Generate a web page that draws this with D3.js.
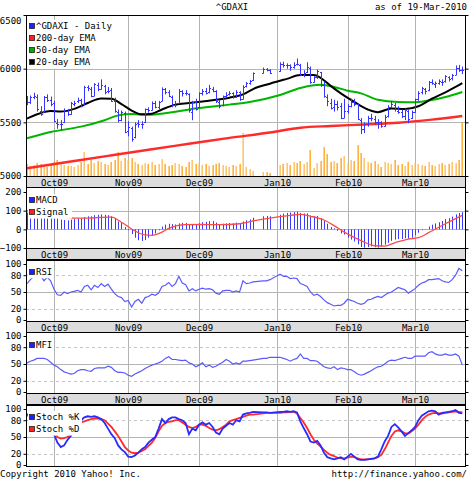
<!DOCTYPE html>
<html>
<head>
<meta charset="utf-8">
<script src="https://cdn.jsdelivr.net/npm/d3@7"></script>
<style>
body { margin: 0; background: #fff; }
text { font-family: "DejaVu Sans Mono", monospace; font-size: 9px; fill: #000; }
</style>
</head>
<body>
<svg id="chart" width="470" height="480"></svg>
<script>
// one slot per weekday, Sep 21 2009 .. Mar 19 2010 (null = exchange holiday)
const monthLabels = ['Oct09', 'Nov09', 'Dec09', 'Jan10', 'Feb10', 'Mar10']
const monthIdx = [8, 30, 51, 74, 95, 115]

const opens = [5700,5690,5740,5735,5610,5600,5735,5710,5680,5490,
 5480,5500,5610,5580,5670,5700,5705,5670,5825,5810,
 5750,5850,5815,5840,5790,5800,5700,5600,5520,5590,
 5420,5450,5360,5490,5480,5500,5620,5615,5680,5640,
 5700,5810,5780,5740,5660,5680,5790,5775,5760,5600,
 5690,5640,5770,5790,5780,5810,5790,5690,5660,5745,
 5760,5770,5740,5780,5720,5835,5865,5890,null,null,
 5960,5995,5985,null,null,5975,6045,6030,6030,6020,
 6045,6035,5940,5970,6010,5880,5920,5965,5850,5740,
 5680,5640,5670,5650,5545,5610,5650,5690,5670,5520,
 5440,5480,5540,5530,5500,5500,5470,5555,5640,5665,
 5610,5600,5560,5610,5540,5600,5715,5780,5810,5800,
 5880,5860,5870,5880,5885,5920,5910,5945,6010,5990]
const highs = [5745,5750,5775,5760,5650,5745,5760,5740,5700,5530,
 5520,5630,5625,5690,5700,5730,5720,5840,5845,5830,
 5865,5870,5900,5850,5830,5820,5730,5620,5610,5600,
 5510,5460,5500,5520,5510,5630,5640,5695,5700,5700,
 5825,5820,5800,5750,5700,5810,5800,5800,5770,5700,
 5720,5780,5810,5820,5850,5830,5800,5710,5750,5780,
 5790,5780,5800,5790,5845,5875,5895,5965,null,null,
 6010,6005,5995,null,null,6060,6065,6050,6040,6060,
 6095,6045,5985,6060,6020,5930,5990,5970,5880,5760,
 5720,5710,5700,5680,5720,5670,5720,5720,5680,5540,
 5500,5560,5580,5560,5530,5510,5570,5660,5700,5680,
 5650,5620,5630,5620,5610,5720,5790,5830,5820,5885,
 5900,5880,5900,5900,5940,5930,5950,6030,6035,6020]
const lows = [5660,5670,5715,5600,5560,5595,5690,5650,5500,5440,
 5420,5495,5560,5570,5650,5680,5640,5665,5790,5735,
 5745,5790,5805,5760,5770,5690,5590,5500,5510,5400,
 5370,5320,5350,5450,5440,5495,5590,5610,5630,5620,
 5695,5760,5735,5640,5640,5675,5740,5750,5590,5520,
 5610,5635,5750,5760,5770,5780,5680,5630,5650,5730,
 5750,5720,5730,5700,5715,5825,5850,5885,null,null,
 5955,5975,5950,null,null,5970,6010,6000,5980,6000,
 6030,5930,5920,5960,5860,5870,5905,5830,5730,5650,
 5620,5600,5610,5530,5540,5580,5640,5650,5520,5390,
 5400,5460,5510,5480,5440,5450,5460,5545,5630,5600,
 5580,5540,5520,5490,5530,5590,5700,5760,5760,5790,
 5850,5820,5850,5840,5870,5880,5890,5940,5970,5950]
const closes = [5688,5736,5742,5622,5581,5737,5707,5675,5509,5488,
 5488,5617,5575,5681,5683,5711,5652,5829,5820,5743,
 5855,5811,5851,5781,5794,5701,5604,5518,5592,5414,
 5452,5347,5489,5486,5488,5620,5613,5684,5642,5688,
 5812,5784,5748,5660,5663,5792,5774,5770,5614,5686,
 5625,5769,5788,5776,5817,5789,5696,5652,5741,5756,
 5771,5732,5787,5719,5831,5863,5884,5957,null,null,
 5997,5986,5957,null,null,6048,6031,6034,6019,6037,
 6041,5943,5964,6019,5875,5918,5976,5851,5746,5696,
 5631,5668,5643,5540,5608,5654,5690,5672,5533,5434,
 5484,5536,5538,5503,5501,5466,5551,5640,5670,5620,
 5600,5558,5615,5532,5598,5713,5776,5817,5795,5877,
 5869,5864,5881,5876,5929,5902,5937,6010,5988,5983]

// volume, millions of shares
const volumes = [67,56,61,72,67,56,50,61,78,89,
 67,61,56,56,50,61,78,133,67,90,
 72,83,78,67,61,78,89,133,83,100,
 89,100,78,67,61,72,67,78,61,67,
 94,67,56,61,72,67,56,50,78,89,
 67,72,61,67,56,61,67,72,61,56,
 50,61,56,67,240,50,39,28,null,null,
 22,22,17,null,null,61,67,72,61,78,
 72,83,67,78,145,44,72,83,160,122,
 78,83,72,100,111,72,89,83,172,128,
 100,78,72,83,67,50,78,72,67,89,
 61,67,56,78,61,72,67,61,56,78,
 61,56,67,72,61,67,78,72,89,298]

// moving averages, read at sample days
const ema20Idx = [0,3,7,10,14,18,22,25,28,31,34,37,40,44,48,52,56,60,64,67,72,77,81,85,87,90,93,97,101,104,108,112,116,120,124,127,129]
const ema20 = [5535,5575,5605,5600,5625,5680,5722,5720,5670,5610,5575,5580,5620,5665,5680,5695,5710,5730,5760,5810,5860,5905,5940,5940,5915,5840,5770,5690,5620,5595,5630,5625,5650,5720,5780,5830,5866]
const ema50Idx = [0,7,16,23,27,31,36,42,51,60,66,75,81,87,91,95,99,104,110,115,120,124,129]
const ema50 = [5352,5410,5460,5520,5565,5578,5570,5590,5633,5665,5690,5755,5820,5850,5830,5795,5770,5710,5690,5688,5708,5736,5783]
const ema200Idx = [0,12,24,36,48,60,72,81,90,100,110,120,129]
const ema200 = [5072,5130,5188,5245,5300,5355,5405,5450,5466,5480,5496,5525,5559]

const macd = [90,92,90,85,80,78,80,78,70,60,
 52,50,48,52,55,58,58,66,70,70,
 76,78,80,78,76,70,58,42,35,12,
 -5,-25,-45,-58,-62,-58,-45,-32,-22,-5,
 15,25,30,28,26,32,35,34,25,28,
 26,33,38,40,44,44,36,28,30,32,
 34,32,36,34,42,48,53,62,null,null,
 70,72,70,null,null,78,84,88,90,92,
 94,88,85,86,74,70,72,60,45,30,
 12,5,-8,-22,-28,-45,-55,-65,-80,-95,
 -98,-95,-92,-96,-98,-92,-82,-72,-62,-55,
 -52,-52,-48,-50,-45,-32,-18,-5,2,15,
 25,32,38,45,55,60,68,80,88,92]
const signalIdx = [0,4,8,11,14,18,22,25,28,31,35,37,40,42,47,52,57,63,67,72,78,81,84,88,91,94,99,103,106,109,113,116,119,124,129]
const signal = [100,92,78,66,60,60,64,65,38,2,-30,-32,-15,5,25,26,25,30,45,60,75,80,70,50,20,-15,-60,-88,-90,-72,-52,-45,-18,30,75]

const rsi = [65,72,78,76,80,70,76,70,55,45,
 44,50,47,50,51,53,50,60,62,54,
 62,58,65,60,64,55,47,42,40,33,
 35,23,33,37,30,40,42,46,44,48,
 60,62,67,60,65,78,66,63,52,56,
 52,55,57,55,56,54,48,46,52,53,
 53,50,52,50,70,65,66,68,null,null,
 70,70,72,null,null,82,78,78,74,75,
 74,65,63,60,50,44,46,42,36,31,
 28,25,26,26,30,37,35,33,30,28,
 30,36,37,40,42,40,44,48,50,54,
 58,56,54,48,52,56,62,66,68,72,
 72,73,74,70,68,67,72,80,92,88]
const mfi = [52,55,57,60,60,60,58,53,48,45,
 40,36,34,32,33,38,40,40,38,37,
 42,43,43,43,46,44,38,35,35,34,
 30,28,32,35,38,42,45,48,50,52,
 55,60,63,58,58,57,56,57,52,50,
 45,48,52,45,48,44,46,50,53,58,
 55,50,52,50,55,55,56,57,null,null,
 60,60,62,null,null,62,60,58,55,58,
 60,68,60,60,56,56,55,50,45,43,
 42,45,40,43,42,40,40,36,32,30,
 32,35,38,42,45,46,50,55,57,56,
 58,60,62,60,60,64,64,64,64,70,
 72,68,66,66,68,66,66,68,64,48]
const stochK = [90,92,93,85,82,88,86,72,55,40,
 32,35,45,52,60,75,80,85,87,86,
 87,85,82,75,65,55,48,35,28,23,
 15,14,17,22,28,32,40,45,50,65,
 82,75,82,85,85,82,80,75,55,65,
 62,72,76,72,75,68,58,55,65,70,
 75,72,80,78,90,92,93,95,null,null,
 94,94,93,null,null,95,95,96,95,96,
 94,78,66,55,42,40,43,35,22,14,
 12,10,12,14,10,15,20,15,10,9,
 9,10,11,12,15,28,42,52,68,73,
 67,60,52,57,62,68,80,88,92,96,
 97,96,90,93,94,95,96,98,93,92]
const stochD = [88,89,91,90,87,85,84,80,62,50,
 47,48,50,55,62,70,76,78,80,82,
 83,83,82,80,74,68,60,52,42,32,
 26,22,21,22,25,28,34,40,48,60,
 70,75,77,78,80,80,76,72,68,66,
 68,72,72,70,66,63,62,64,68,72,
 78,80,82,84,86,88,90,90,null,null,
 92,93,93,null,null,93,94,94,95,95,
 92,84,76,66,55,45,38,33,27,22,
 18,16,13,12,12,13,15,14,12,10,
 10,10,11,12,14,18,28,40,52,60,
 62,60,57,56,60,65,72,80,86,90,
 92,93,92,92,93,94,95,96,95,94]

const left = 26, right = 465
const svg = d3.select('#chart')

const x = d3.scaleLinear()
    .domain([-0.3, 129.8])
    .range([left, right])
const px = i => Math.round(x(i)) + 0.5

// panel layout
const panels = [
    { top: 15, bottom: 176, domain: [5000, 6500], range: [176, 15], ticks: [5000, 5500, 6000, 6500], grid: [5500, 6000], dashed: [], strip: true },
    { top: 187, bottom: 248, domain: [-100, 200], range: [248, 192], ticks: [-100, 0, 100, 200], grid: [0, 100], dashed: [], strip: true },
    { top: 260, bottom: 321, domain: [0, 100], range: [320, 264], ticks: [0, 20, 50, 80, 100], grid: [50], dashed: [20, 80], strip: true },
    { top: 332, bottom: 393, domain: [0, 100], range: [392, 336], ticks: [0, 20, 50, 80, 100], grid: [50], dashed: [20, 80], strip: true },
    { top: 405, bottom: 466, domain: [0, 100], range: [465, 409], ticks: [0, 20, 50, 80, 100], grid: [50], dashed: [20, 80], strip: false }
]
panels.forEach(p => p.y = d3.scaleLinear().domain(p.domain).range(p.range))

// grids
panels.forEach(p => {
    const g = svg.append('g')
    g.selectAll('.vgrid')
        .data(monthIdx)
        .enter().append('line')
        .attr('x1', d => px(d)).attr('x2', d => px(d))
        .attr('y1', p.top).attr('y2', p.bottom)
        .attr('stroke', '#b4b4b4')
    g.selectAll('.hgrid')
        .data(p.grid)
        .enter().append('line')
        .attr('x1', left).attr('x2', right)
        .attr('y1', d => Math.round(p.y(d)) + 0.5).attr('y2', d => Math.round(p.y(d)) + 0.5)
        .attr('stroke', '#b4b4b4')
    g.selectAll('.dgrid')
        .data(p.dashed)
        .enter().append('line')
        .attr('x1', left).attr('x2', right)
        .attr('y1', d => Math.round(p.y(d)) + 0.5).attr('y2', d => Math.round(p.y(d)) + 0.5)
        .attr('stroke', '#c4c4c4')
        .attr('stroke-dasharray', '3,3')
})

const days = d3.range(closes.length).filter(i => closes[i] != null)
const pts = (arr, idx) => (idx || days).map((i, k) => [i, idx ? arr[k] : arr[i]])

const lineFor = (y, curve) => d3.line()
    .x(d => x(d[0]))
    .y(d => y(d[1]))
    .curve(curve || d3.curveLinear)

// main panel: volume, EMAs, OHLC bars
const pMain = panels[0]
const vol = d3.scaleLinear().domain([0, 300]).range([176, 122])

svg.append('g').selectAll('rect')
    .data(days)
    .enter().append('rect')
    .attr('x', i => Math.round(x(i)) - 0.5)
    .attr('y', i => vol(volumes[i]))
    .attr('width', 1.3)
    .attr('height', i => vol(0) - vol(volumes[i]))
    .attr('fill', i => closes[i] >= opens[i] ? '#ffb84d' : '#ffa010')

svg.append('path')
    .datum(pts(ema200, ema200Idx))
    .attr('d', lineFor(pMain.y, d3.curveMonotoneX))
    .attr('fill', 'none').attr('stroke', '#ff2a2a').attr('stroke-width', 2.4)
svg.append('path')
    .datum(pts(ema50, ema50Idx))
    .attr('d', lineFor(pMain.y, d3.curveMonotoneX))
    .attr('fill', 'none').attr('stroke', '#00b400').attr('stroke-width', 2)
svg.append('path')
    .datum(pts(ema20, ema20Idx))
    .attr('d', lineFor(pMain.y, d3.curveMonotoneX))
    .attr('fill', 'none').attr('stroke', '#000').attr('stroke-width', 2)

const bars = svg.append('g').attr('stroke', '#3535ff').attr('stroke-width', 1)
days.forEach(i => {
    const cx = px(i)
    bars.append('line').attr('x1', cx).attr('x2', cx)
        .attr('y1', pMain.y(highs[i])).attr('y2', pMain.y(lows[i]))
    bars.append('line').attr('x1', cx - 1.5).attr('x2', cx)
        .attr('y1', Math.round(pMain.y(opens[i])) + 0.5).attr('y2', Math.round(pMain.y(opens[i])) + 0.5)
    bars.append('line').attr('x1', cx).attr('x2', cx + 1.5)
        .attr('y1', Math.round(pMain.y(closes[i])) + 0.5).attr('y2', Math.round(pMain.y(closes[i])) + 0.5)
})

// MACD
const pMacd = panels[1]
svg.append('g').selectAll('line')
    .data(days)
    .enter().append('line')
    .attr('x1', i => px(i)).attr('x2', i => px(i))
    .attr('y1', pMacd.y(0)).attr('y2', i => pMacd.y(macd[i]))
    .attr('stroke', '#3a3aff')
svg.append('path')
    .datum(pts(signal, signalIdx))
    .attr('d', lineFor(pMacd.y, d3.curveMonotoneX))
    .attr('fill', 'none').attr('stroke', '#ff4a4a').attr('stroke-width', 1.3)

// RSI, MFI
svg.append('path')
    .datum(pts(rsi))
    .attr('d', lineFor(panels[2].y))
    .attr('fill', 'none').attr('stroke', '#5a5aff').attr('stroke-width', 1.2)
svg.append('path')
    .datum(pts(mfi))
    .attr('d', lineFor(panels[3].y))
    .attr('fill', 'none').attr('stroke', '#5a5aff').attr('stroke-width', 1.2)

// stochastics
svg.append('path')
    .datum(pts(stochD))
    .attr('d', lineFor(panels[4].y))
    .attr('fill', 'none').attr('stroke', '#ff2a2a').attr('stroke-width', 1.8)
svg.append('path')
    .datum(pts(stochK))
    .attr('d', lineFor(panels[4].y))
    .attr('fill', 'none').attr('stroke', '#2a2aff').attr('stroke-width', 1.8)

// legends
const legend = (items, cy, w) => {
    const g = svg.append('g')
    g.append('rect')
        .attr('x', 28).attr('y', cy - 6)
        .attr('width', w).attr('height', items.length * 12.3)
        .attr('fill', '#fff')
    items.forEach((it, k) => {
        const yy = cy + k * 12.3
        g.append('rect')
            .attr('x', 29.5).attr('y', Math.round(yy - 3) + 0.5)
            .attr('width', 5).attr('height', 5)
            .attr('fill', it[1]).attr('stroke', '#222').attr('stroke-width', 0.8)
        g.append('text').attr('x', 36).attr('y', yy + 3).text(it[0])
    })
}
legend([['^GDAXI - Daily', '#2020ff'], ['200-day EMA', '#ff2020'], ['50-day EMA', '#00b000'], ['20-day EMA', '#000']], 25.5, 86)
legend([['MACD', '#2020ff'], ['Signal', '#ff2020']], 200, 44)
legend([['RSI', '#2020ff']], 272, 26)
legend([['MFI', '#2020ff']], 345, 26)
legend([['Stoch %K', '#2020ff'], ['Stoch %D', '#ff2020']], 417, 54)

// frames, axes, date strips
panels.forEach(p => {
    svg.append('rect')
        .attr('x', left + 0.5).attr('y', p.top + 0.5)
        .attr('width', right - left).attr('height', p.bottom - p.top)
        .attr('fill', 'none').attr('stroke', '#000')

    const ax = svg.append('g')
        .attr('transform', `translate(${left + 0.5},0)`)
        .call(d3.axisLeft(p.y).tickValues(p.ticks).tickSize(3).tickPadding(2).tickFormat(d3.format('d')))
    ax.select('.domain').remove()
    ax.selectAll('text')
        .style('font-family', '"DejaVu Sans Mono", monospace').style('font-size', '9px')
        .attr('dy', d => p.y(d) < p.top + 3 ? '0.95em' : '0.32em')
    ax.selectAll('line').attr('stroke', '#000')

    const ar = svg.append('g')
        .attr('transform', `translate(${right + 0.5},0)`)
        .call(d3.axisRight(p.y).tickValues(p.ticks).tickSize(3).tickFormat(''))
    ar.select('.domain').remove()

    if (p.strip) {
        const s = svg.append('g')
        s.append('rect')
            .attr('x', left + 0.5).attr('y', p.bottom + 0.5)
            .attr('width', right - left).attr('height', 11)
            .attr('fill', '#dcdcdc').attr('stroke', '#000')
        s.selectAll('text')
            .data(monthIdx)
            .enter().append('text')
            .attr('x', d => px(d))
            .attr('y', p.bottom + 9.5)
            .attr('text-anchor', 'middle')
            .text((d, k) => monthLabels[k])
    }
})

// header and footer
svg.append('text').attr('x', 232).attr('y', 10).attr('text-anchor', 'middle').text('^GDAXI')
svg.append('text').attr('x', 467).attr('y', 10).attr('text-anchor', 'end').text('as of 19-Mar-2010')
svg.append('text').attr('x', 0).attr('y', 477).text('Copyright 2010 Yahoo! Inc.')
svg.append('text').attr('x', 467).attr('y', 477).attr('text-anchor', 'end').text('http://finance.yahoo.com/')
</script>
</body>
</html>
